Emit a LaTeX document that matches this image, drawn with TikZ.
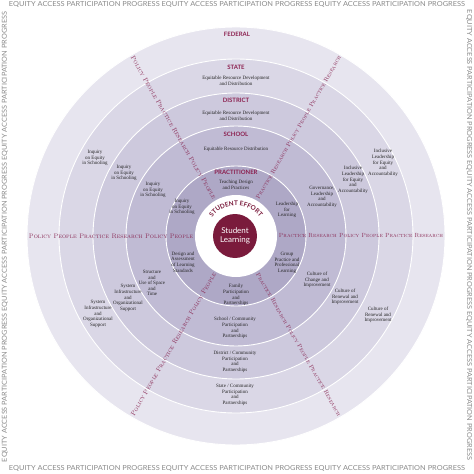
\documentclass[tikz,border=0pt]{standalone}
\usepackage{fontspec}
\usetikzlibrary{decorations.text}
\newfontfamily\rtext{Liberation Serif}
\newfontfamily\lsans{Lato}
\definecolor{ringF}{HTML}{E7E5EF}
\definecolor{ringS}{HTML}{DAD7E6}
\definecolor{ringD}{HTML}{CDC9DD}
\definecolor{ringSc}{HTML}{C0BBD4}
\definecolor{ringP}{HTML}{AEA8C6}
\definecolor{core}{HTML}{7A1B3C}
\definecolor{maroonL}{HTML}{8C2150}
\definecolor{bandc}{HTML}{8A2A55}
\definecolor{bordgray}{HTML}{8A8A8A}
\newcommand{\bordstr}{EQUITY ACCESS PARTICIPATION PROGRESS EQUITY ACCESS PARTICIPATION PROGRESS EQUITY ACCESS PARTICIPATION PROGRESS}
\newcommand{\leftband}{Policy People Practice Research Policy People}
\newcommand{\rightband}{Practice Research Policy People Practice Research}
\begin{document}
\begin{tikzpicture}[x=1pt,y=1pt,
  ring/.style={circle, draw=white, line width=0.9pt, inner sep=0pt},
  ringtext/.style={font=\rtext\fontsize{5}{5.6}\selectfont, align=center, text=black!85, inner sep=0pt},
  lvl/.style={font=\lsans\bfseries\fontsize{6}{7}\selectfont, text=maroonL, inner sep=0pt},
  band/.style={font=\fontsize{6.4}{7}\selectfont\scshape, text=bandc, inner sep=0pt},
  bord/.style={inner sep=0pt, text=bordgray}]
\useasboundingbox (-236,-238) rectangle (238,236);
\fill[white] (-236,-238) rectangle (238,236);
% rings
\node[ring, fill=ringF, minimum size=418pt] (federal) at (0,0) {};
\node[ring, fill=ringS, minimum size=354pt] (state) at (0,0) {};
\node[ring, fill=ringD, minimum size=286pt] (district) at (0,0) {};
\node[ring, fill=ringSc, minimum size=220pt] (school) at (0,0) {};
\node[ring, fill=ringP, minimum size=140pt] (practitioner) at (0,0) {};
\node[circle, fill=white, inner sep=0pt, minimum size=82pt] (effort) at (0,0) {};
\node[circle, fill=core, inner sep=0pt, minimum size=44pt, text=white, align=center,
      font=\lsans\fontsize{8}{9.4}\selectfont] (learning) at (-1,0) {Student\\Learning};
% level labels
\node[lvl] (lfed) at (1,202) {FEDERAL};
\node[lvl] (lstate) at (0,169) {STATE};
\node[lvl] (ldist) at (0,136) {DISTRICT};
\node[lvl] (lschool) at (0,102) {SCHOOL};
\node[lvl] (lprac) at (0,64) {PRACTITIONER};
\path[decorate, decoration={text along path, text align=center,
  text={|\lsans\bfseries\fontsize{6.4}{7}\selectfont\color{core}|STUDENT EFFORT}}]
  (160:30.5) arc[start angle=160, end angle=20, radius=30.5];
% top sector
\node[ringtext] (t1) at (0,155) {Equitable Resource Development\\and Distribution};
\node[ringtext] (t2) at (0,120) {Equitable Resource Development\\and Distribution};
\node[ringtext] (t3) at (0,87) {Equitable Resource Distribution};
\node[ringtext] (t4) at (0,51) {Teaching Design\\and Practices};
% upper left
\node[ringtext] (ul1) at (-141,78) {Inquiry\\on Equity\\in Schooling};
\node[ringtext] (ul2) at (-112,63) {Inquiry\\on Equity\\in Schooling};
\node[ringtext] (ul3) at (-83,46) {Inquiry\\on Equity\\in Schooling};
\node[ringtext] (ul4) at (-54,29) {Inquiry\\on Equity\\in Schooling};
% upper right
\node[ringtext] (ur1) at (147,73) {Inclusive\\Leadership\\for Equity\\and\\Accountability};
\node[ringtext] (ur2) at (117,56) {Inclusive\\Leadership\\for Equity\\and\\Accountability};
\node[ringtext] (ur3) at (86,39) {Governance,\\Leadership\\and\\Accountability};
\node[ringtext] (ur4) at (51,26) {Leadership\\for\\Learning};
% lower left
\node[ringtext] (ll4) at (-53,-26) {Design and\\Assessment\\of Learning\\Standards};
\node[ringtext] (ll3) at (-84,-47) {Structure\\and\\Use of Space\\and\\Time};
\node[ringtext] (ll2) at (-108,-62) {System\\Infrastructure\\and\\Organizational\\Support};
\node[ringtext] (ll1) at (-138,-78) {System\\Infrastructure\\and\\Organizational\\Support};
% lower right
\node[ringtext] (lr4) at (51,-27) {Group\\Practice and\\Professional\\Learning};
\node[ringtext] (lr3) at (81,-44) {Culture of\\Change and\\Improvement};
\node[ringtext] (lr2) at (109,-61) {Culture of\\Renewal and\\Improvement};
\node[ringtext] (lr1) at (142,-79) {Culture of\\Renewal and\\Improvement};
% bottom
\node[ringtext] (b4) at (0,-59) {Family\\Participation\\and\\Partnerships};
\node[ringtext] (b3) at (-1,-92) {School / Community\\Participation\\and\\Partnerships};
\node[ringtext] (b2) at (-1,-126) {District / Community\\Participation\\and\\Partnerships};
\node[ringtext] (b1) at (-1,-159) {State / Community\\Participation\\and\\Partnerships};
% bands
\node[band] (bandW) at (180:125) {\resizebox{164pt}{!}{\leftband}};
\node[band, rotate=-60] (bandNW) at (120:125) {\resizebox{164pt}{!}{\leftband}};
\node[band, rotate=60] (bandSW) at (240:125) {\resizebox{164pt}{!}{\leftband}};
\node[band] (bandE) at (0:125) {\resizebox{164pt}{!}{\rightband}};
\node[band, rotate=60] (bandNE) at (60:125) {\resizebox{164pt}{!}{\rightband}};
\node[band, rotate=-60] (bandSE) at (300:125) {\resizebox{164pt}{!}{\rightband}};
% border
\node[bord] (btop) at (1,231.5) {\resizebox{456pt}{5pt}{\lsans\bordstr}};
\node[bord] (bbot) at (1,-233) {\resizebox{456pt}{5pt}{\lsans\bordstr}};
\node[bord, rotate=90] (bleft) at (-231,-1) {\resizebox{450pt}{5pt}{\lsans\bordstr}};
\node[bord, rotate=-90] (bright) at (233,1) {\resizebox{450pt}{5pt}{\lsans\bordstr}};
\end{tikzpicture}
\end{document}
